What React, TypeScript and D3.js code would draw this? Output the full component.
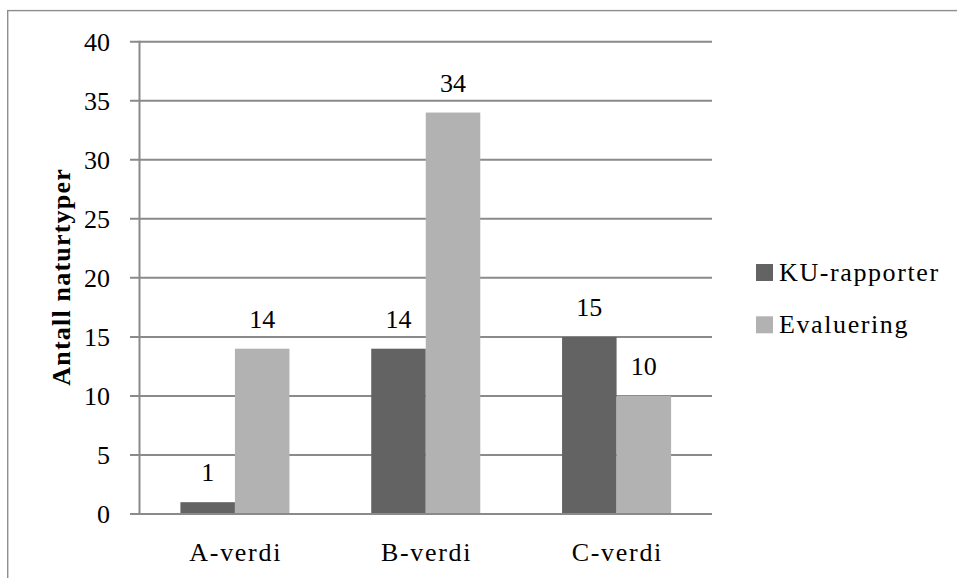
import React from "react";
import * as d3 from "d3";

const categories = ["A-verdi", "B-verdi", "C-verdi"];
const seriesNames = ["KU-rapporter", "Evaluering"];
const kuRapporter = [1, 14, 15];
const evaluering = [14, 34, 10];
const yTicks = [0, 5, 10, 15, 20, 25, 30, 35, 40];
const yAxisTitle = "Antall naturtyper";

const seriesColors = ["#636363", "#b2b2b2"];
const gridColor = "#8a8a8a";
const FONT = "'Liberation Serif', serif";

export default function App() {
  const width = 957;
  const height = 578;
  const plot = { left: 139.5, right: 712, top: 41.7, bottom: 514 };

  const x0 = d3
    .scaleBand<string>()
    .domain(categories)
    .range([plot.left, plot.right])
    .paddingInner(0)
    .paddingOuter(0);
  // bars fill 2/3.5 of each band (gap width 150%)
  const groupFrac = 2 / 3.5;
  const x1 = d3
    .scaleBand<string>()
    .domain(seriesNames)
    .range([0, x0.bandwidth() * groupFrac]);
  const groupOffset = (x0.bandwidth() * (1 - groupFrac)) / 2;

  const y = d3.scaleLinear().domain([0, 40]).range([plot.bottom, plot.top]);

  const series = [kuRapporter, evaluering];

  return (
    <svg
      width={width}
      height={height}
      style={{ position: "absolute", left: 0, top: 0, background: "#fff" }}
      fontFamily={FONT}
    >
      <rect x={0} y={0} width={width} height={height} fill="#fff" />
      {/* outer frame */}
      <rect
        x={7.7}
        y={10.6}
        width={width + 20}
        height={height + 20}
        fill="none"
        stroke="#8e8e8e"
        strokeWidth={1.4}
      />

      {/* gridlines and y tick labels */}
      {yTicks.map((t) => (
        <g key={t}>
          <line
            x1={plot.left - 9.5}
            x2={plot.right}
            y1={y(t)}
            y2={y(t)}
            stroke={gridColor}
            strokeWidth={2}
          />
          <text
            x={110}
            y={y(t)}
            dy="0.34em"
            textAnchor="end"
            fontSize={26}
            fill="#000"
          >
            {t}
          </text>
        </g>
      ))}

      {/* bars */}
      {categories.map((c, ci) => (
        <g key={c}>
          {series.map((vals, si) => {
            const bx = (x0(c) as number) + groupOffset + (x1(seriesNames[si]) as number);
            const bw = x1.bandwidth();
            const v = vals[ci];
            return (
              <g key={si}>
                <rect
                  x={bx}
                  y={y(v)}
                  width={bw}
                  height={y(0) - y(v)}
                  fill={seriesColors[si]}
                />
                <text
                  x={bx + bw / 2}
                  y={y(v) - 21}
                  textAnchor="middle"
                  fontSize={26}
                  fill="#000"
                >
                  {v}
                </text>
              </g>
            );
          })}
        </g>
      ))}

      {/* axes */}
      <line
        x1={plot.left}
        x2={plot.left}
        y1={plot.top - 1}
        y2={plot.bottom + 1}
        stroke={gridColor}
        strokeWidth={2}
      />
      <line
        x1={plot.left - 9.5}
        x2={plot.right}
        y1={plot.bottom}
        y2={plot.bottom}
        stroke={gridColor}
        strokeWidth={2}
      />

      {/* category labels */}
      {categories.map((c) => (
        <text
          key={c}
          x={(x0(c) as number) + x0.bandwidth() / 2 + 0.8}
          y={561}
          textAnchor="middle"
          fontSize={26}
          letterSpacing={1.7}
          fill="#000"
        >
          {c}
        </text>
      ))}

      {/* y axis title */}
      <text
        transform={`translate(70, ${(plot.top + plot.bottom) / 2 - 1}) rotate(-90)`}
        textAnchor="middle"
        fontSize={26}
        fontWeight="bold"
        letterSpacing={1.2}
        fill="#000"
      >
        {yAxisTitle}
      </text>

      {/* legend */}
      {seriesNames.map((n, i) => (
        <g key={n} transform={`translate(756, ${264 + i * 52.3})`}>
          <rect x={0} y={0} width={17} height={17} fill={seriesColors[i]} />
          <text x={23} y={17} fontSize={26} letterSpacing={1.6} fill="#000">
            {n}
          </text>
        </g>
      ))}
    </svg>
  );
}
